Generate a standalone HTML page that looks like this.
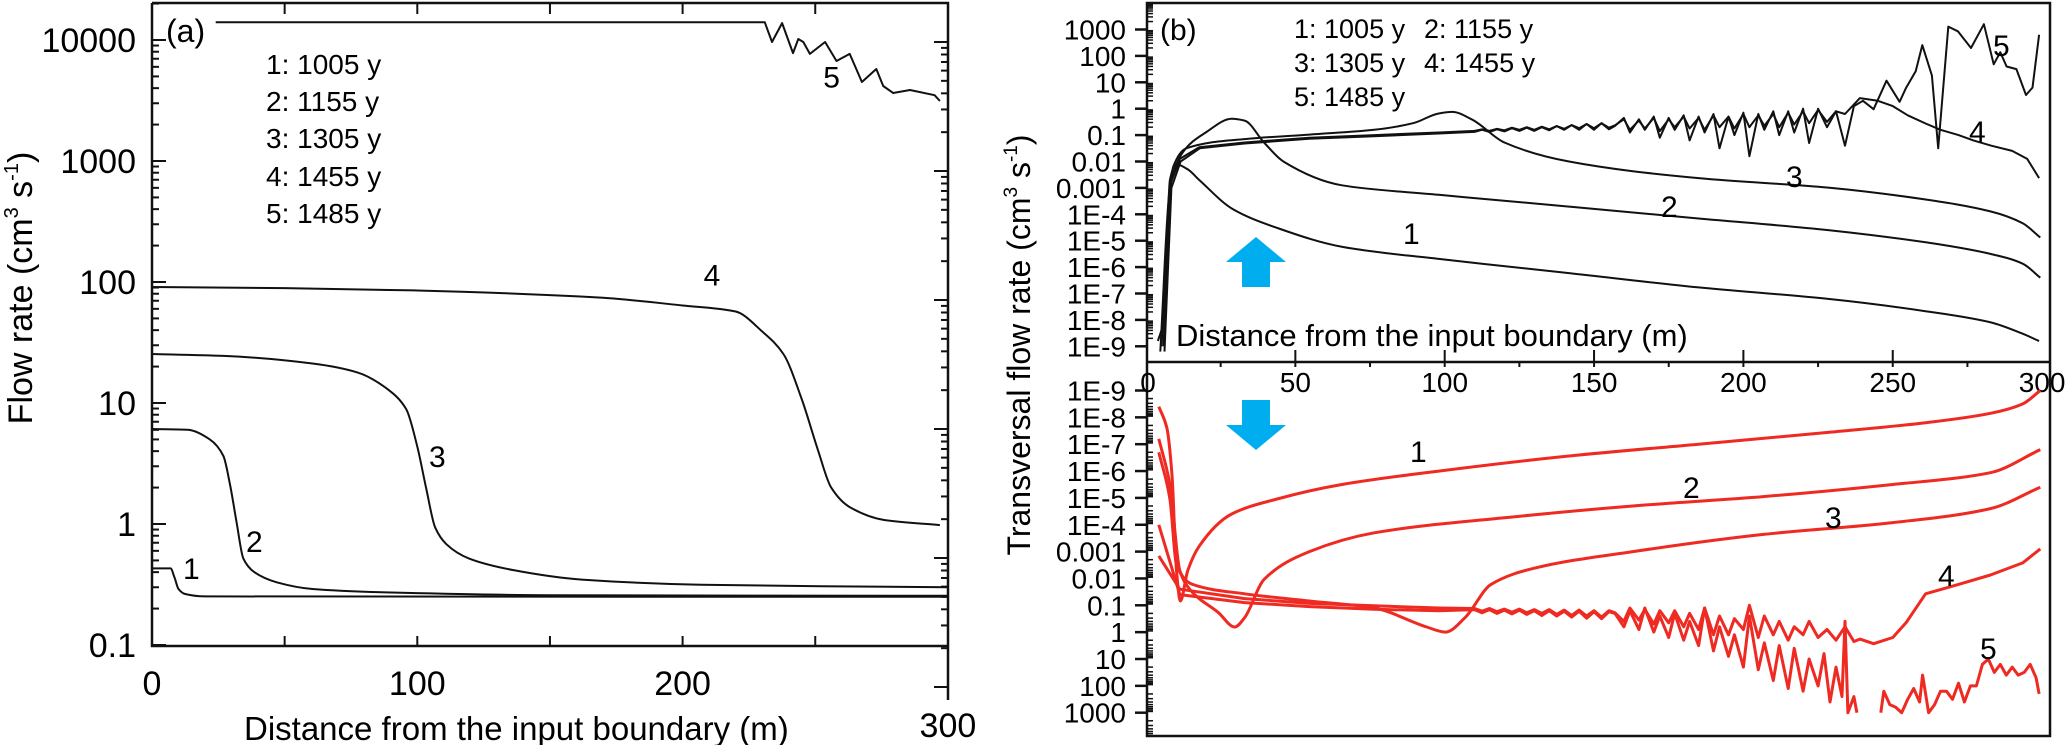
<!DOCTYPE html>
<html><head><meta charset="utf-8">
<style>
html,body{margin:0;padding:0;background:#fff;}
svg{display:block;font-family:"Liberation Sans",Arial,sans-serif;}
</style></head>
<body>
<svg id="fig" width="2067" height="745" viewBox="0 0 2067 745" xmlns="http://www.w3.org/2000/svg">
<g id="axes"></g>
<g id="series"></g>
<g id="labels">
  <text x="166" y="42" font-size="32">(a)</text>
  <text x="1160" y="40" font-size="30">(b)</text>
  <g font-size="28">
    <text x="266" y="74">1: 1005 y</text>
    <text x="266" y="111">2: 1155 y</text>
    <text x="266" y="148">3: 1305 y</text>
    <text x="266" y="186">4: 1455 y</text>
    <text x="266" y="223">5: 1485 y</text>
  </g>
  <g font-size="27">
    <text x="1294" y="38">1: 1005 y</text>
    <text x="1424" y="38">2: 1155 y</text>
    <text x="1294" y="72">3: 1305 y</text>
    <text x="1424" y="72">4: 1455 y</text>
    <text x="1294" y="106">5: 1485 y</text>
  </g>
  <text x="244" y="740" font-size="33">Distance from the input boundary (m)</text>
  <text transform="translate(32,288) rotate(-90)" text-anchor="middle" font-size="34">Flow rate (cm<tspan font-size="20" dy="-14">3</tspan><tspan dy="14"> s</tspan><tspan font-size="20" dy="-14">-1</tspan><tspan dy="14">)</tspan></text>
  <text x="1176" y="346" font-size="31">Distance from the input boundary (m)</text>
  <text transform="translate(1030,345) rotate(-90)" text-anchor="middle" font-size="32">Transversal flow rate (cm<tspan font-size="19" dy="-13">3</tspan><tspan dy="13"> s</tspan><tspan font-size="19" dy="-13">-1</tspan><tspan dy="13">)</tspan></text>
  <g font-size="30">
    <text x="183" y="579">1</text>
    <text x="246" y="552">2</text>
    <text x="429" y="467">3</text>
  </g>
  <g font-size="30">
    <text x="1993" y="56">5</text>
    <text x="1969" y="142">4</text>
    <text x="1786" y="187">3</text>
    <text x="1661" y="217">2</text>
    <text x="1403" y="244">1</text>
    <text x="1410" y="462">1</text>
    <text x="1683" y="498">2</text>
    <text x="1825" y="528">3</text>
    <text x="1938" y="586">4</text>
    <text x="1980" y="659">5</text>
  </g>
  <polygon fill="#00AEEF" points="1256,237 1286,262 1270,262 1270,287 1242,287 1242,262 1226,262"/>
  <polygon fill="#00AEEF" points="1256,450 1286,425 1270,425 1270,400 1242,400 1242,425 1226,425"/>
</g>
</svg>
<script>
// ---------- Panel (a) data: flow rate (cm3/s) vs distance (m) ----------
const a1X = [0, 7, 8.5, 10, 12.5, 20, 300];
const a1V = [0.43, 0.43, 0.36, 0.29, 0.264, 0.252, 0.25];
const a2X = [0, 13.4, 21.8, 26.9, 29.4, 31.9, 34.4, 38.6, 47, 60.5, 94, 150, 300];
const a2V = [6.1, 6.0, 5.0, 3.65, 2.12, 1.03, 0.52, 0.40, 0.33, 0.29, 0.27, 0.258, 0.255];
const a3X = [0, 27, 60.5, 77.4, 89, 95.8, 100, 103.4, 106.7, 111, 119.4, 136, 162, 207, 300];
const a3V = [25.4, 24.5, 21.2, 17.9, 12.9, 8.9, 4.36, 1.95, 0.94, 0.68, 0.52, 0.417, 0.347, 0.315, 0.30];
const a4X = [0, 50, 100, 150, 170, 200, 220, 230, 238, 245, 251, 256, 263, 276, 297];
const a4V = [91, 89, 85, 78, 74, 64, 57, 39, 25.4, 10.6, 4.1, 2.0, 1.38, 1.08, 0.98];
const a5X = [24, 100, 200, 231, 233.7, 237.5, 241.6, 243.6, 245.5, 248, 253.7, 258, 263, 267.6, 273, 275.6, 279.4, 285.7, 295, 297];
const a5V = [14000, 14000, 14000, 14000, 9630, 13800, 7800, 10200, 9630, 7670, 9630, 6700, 7670, 4500, 5760, 4170, 3650, 3860, 3500, 3130];
const aYTicks = [0.1, 1, 10, 100, 1000, 10000];
const aYTickLabels = ["0.1", "1", "10", "100", "1000", "10000"];
const aXTicks = [0, 100, 200];
const aXTickLabels = ["0", "100", "200"];

// ---------- Panel (b) data: log10 of transversal flow rate ----------
const bu1X = [4, 6, 8, 10, 14, 18, 29, 44, 66, 98, 142, 185, 228, 261, 283, 293, 299];
const bu1L = [-8.8, -8.0, -2.7, -2.1, -2.3, -2.72, -3.8, -4.52, -5.24, -5.69, -6.23, -6.77, -7.2, -7.67, -8.1, -8.5, -8.8];
const bu2X = [4.8, 8, 12.4, 20, 28.7, 33, 39.5, 46, 65.6, 98, 141.6, 185, 228.4, 261, 282.7, 293.5, 299.4];
const bu2L = [-9.2, -3.0, -1.64, -0.9, -0.38, -0.45, -1.28, -2.0, -2.9, -3.26, -3.71, -4.16, -4.6, -5.06, -5.5, -5.87, -6.4];
const bu3X = [5.2, 9.1, 13.5, 33, 54.7, 76.4, 89.4, 98, 102.5, 109, 120, 141.6, 185, 228.4, 261, 282.7, 293.5, 299.4];
const bu3L = [-9.0, -2.2, -1.5, -1.15, -0.98, -0.8, -0.55, -0.18, -0.12, -0.4, -1.28, -2.0, -2.63, -2.99, -3.44, -3.89, -4.34, -4.88];
const bu4X = [5.9, 8, 11.3, 17.8, 33, 54.7, 76.4, 98, 110, 112.5, 115, 117.5, 120, 122.5, 125, 127.5, 130, 132.5, 135, 137.5, 140, 142.5, 145, 147.5, 150, 152.5, 155, 157, 160, 162, 165, 167, 170, 172, 175, 177, 180, 182, 185, 187, 190, 192, 195, 197, 200, 202, 205, 207, 210, 212, 215, 217, 220, 222, 225, 228, 231, 234, 239, 245, 250, 255, 261, 266, 272, 277, 283, 290, 295, 299];
const bu4L = [-9.0, -2.9, -1.9, -1.46, -1.28, -1.1, -1.0, -0.9, -0.84, -0.78, -0.84, -0.76, -0.82, -0.72, -0.8, -0.7, -0.8, -0.68, -0.78, -0.66, -0.76, -0.62, -0.74, -0.58, -0.74, -0.55, -0.72, -0.63, -0.4, -0.8, -0.45, -0.75, -0.35, -0.85, -0.4, -0.7, -0.3, -0.75, -0.35, -0.8, -0.25, -0.7, -0.3, -0.75, -0.2, -0.7, -0.25, -0.65, -0.2, -0.7, -0.15, -0.6, -0.1, -0.55, -0.05, -0.5, -0.1, -0.2, 0.4, 0.3, 0.1, -0.25, -0.56, -0.8, -1.0, -1.2, -1.4, -1.6, -1.9, -2.63];
const bu5X = [6.2, 8.5, 11.6, 18, 33, 54.7, 76.4, 98, 110, 112.5, 115, 117.5, 120, 122.5, 125, 127.5, 130, 132.5, 135, 137.5, 140, 142.5, 145, 147.5, 150, 152.5, 155, 157, 160, 162, 165, 167, 170, 172, 175, 177, 180, 182, 185, 187, 190, 192, 195, 197, 200, 202, 205, 207, 210, 212, 215, 217, 220, 222, 225, 228, 231, 234, 237, 240, 243.6, 247.9, 252.3, 254.5, 257.7, 259.9, 263.1, 265.2, 268.6, 271.8, 276.2, 280.5, 283.8, 286, 288.1, 291.4, 294.6, 296.8, 299];
const bu5L = [-9.2, -3.0, -2.0, -1.5, -1.32, -1.14, -1.04, -0.94, -0.88, -0.8, -0.88, -0.78, -0.86, -0.74, -0.84, -0.72, -0.84, -0.7, -0.82, -0.66, -0.8, -0.62, -0.8, -0.58, -0.8, -0.55, -0.78, -0.65, -0.35, -0.9, -0.4, -0.8, -0.3, -1.1, -0.35, -0.8, -0.25, -1.2, -0.3, -0.9, -0.2, -1.5, -0.3, -1.0, -0.15, -1.8, -0.2, -0.8, -0.1, -1.0, -0.1, -0.9, 0.0, -1.3, 0.0, -0.7, -0.1, -1.4, 0.1, 0.3, -0.02, 1.06, 0.26, 0.8, 1.42, 2.41, 1.26, -1.5, 3.11, 2.93, 2.3, 3.2, 1.68, 2.14, 1.6, 1.5, 0.52, 0.8, 2.8];

const bl1X = [4.3, 7, 8.7, 10.2, 11.5, 14, 17.8, 28.7, 43.9, 65.6, 98, 141.6, 185, 228.4, 261, 282.7, 293.5, 299.4];
const bl1L = [-8.4, -7.6, -5.85, -2.3, -1.16, -2.3, -3.2, -4.4, -4.96, -5.5, -6.0, -6.56, -7.0, -7.44, -7.8, -8.15, -8.5, -9.0];
const bl2X = [4.3, 8, 11.3, 14.6, 24.3, 29.7, 33, 39.5, 54.7, 76.4, 120, 163, 206.7, 250, 282.7, 299.4];
const bl2L = [-7.2, -5.5, -2.3, -1.6, -0.72, -0.19, -0.54, -1.96, -3.0, -3.7, -4.26, -4.7, -5.05, -5.5, -5.94, -6.8];
const bl3X = [4.3, 8, 10.2, 15.6, 33, 54.7, 76.4, 94, 100.3, 106.8, 115.5, 130.7, 163, 206.7, 250, 282.7, 299.4];
const bl3L = [-6.7, -4.96, -2.5, -1.78, -1.43, -1.16, -0.9, -0.19, 0.0, -0.54, -1.78, -2.4, -3.0, -3.64, -4.08, -4.6, -5.4];
const bl4X = [4.3, 11.3, 33, 54.7, 76.4, 98, 110, 112.5, 115, 117.5, 120, 122.5, 125, 127.5, 130, 132.5, 135, 137.5, 140, 142.5, 145, 147.5, 150, 152.5, 155, 157, 160, 162, 165, 167, 170, 172, 175, 177, 180, 182, 185, 187, 190, 192, 195, 197, 200, 202, 205, 207, 210, 212, 215, 217, 220, 222, 225, 228, 231, 234, 237, 239, 243.6, 250, 254.5, 261, 272, 282.7, 293.5, 299.4];
const bl4L = [-2.84, -1.6, -1.25, -1.07, -0.98, -0.9, -0.88, -0.78, -0.88, -0.76, -0.86, -0.74, -0.86, -0.72, -0.84, -0.7, -0.84, -0.66, -0.82, -0.62, -0.82, -0.6, -0.8, -0.56, -0.8, -0.72, -0.4, -0.9, -0.45, -0.85, -0.3, -0.8, -0.35, -0.8, -0.2, -0.7, -0.1, -0.9, 0.1, -0.6, 0.1, -0.5, -0.1, -1.0, 0.2, -0.6, 0.1, -0.4, 0.3, -0.2, 0.1, -0.4, 0.2, -0.1, 0.3, -0.2, 0.35, 0.26, 0.43, 0.2, -0.36, -1.43, -1.78, -2.13, -2.58, -3.1];
const bl5X = [4.3, 11.3, 33, 54.7, 76.4, 98, 110, 112.5, 115, 117.5, 120, 122.5, 125, 127.5, 130, 132.5, 135, 137.5, 140, 142.5, 145, 147.5, 150, 152.5, 155, 157, 160, 162, 165, 167, 170, 172, 175, 177, 180, 182, 185, 187, 190, 192, 195, 197, 200, 202, 205, 207, 210, 212, 215, 217, 220, 222, 225, 227, 229, 231, 233, 234, 235, 237, 238, 242, 246, 247, 249, 251, 253, 255, 257, 259, 260, 262, 264, 266, 268, 270, 272, 274, 276, 278, 280, 282, 284, 286, 288, 290, 292, 294, 296, 298, 299];
const bl5L = [-4.0, -1.4, -1.1, -0.95, -0.85, -0.8, -0.84, -0.72, -0.84, -0.7, -0.82, -0.68, -0.82, -0.66, -0.8, -0.62, -0.8, -0.6, -0.78, -0.56, -0.78, -0.52, -0.76, -0.5, -0.76, -0.7, -0.2, -0.8, -0.1, -0.9, 0.0, -0.6, 0.2, -0.7, 0.3, -0.4, 0.5, -0.9, 0.7, -0.2, 0.9, 0.1, 1.3, -0.6, 1.4, 0.4, 1.8, 0.5, 2.1, 0.6, 2.2, 1.0, 2.0, 0.8, 2.6, 1.3, 2.4, -0.4, 3.0, 2.4, 3.0, null, 3.0, 2.2, 2.7, 2.8, 3.0, 2.5, 2.1, 2.6, 1.6, 3.0, 2.7, 2.2, 2.2, 2.5, 1.9, 2.6, 2.0, 2.0, 1.2, 1.0, 1.5, 1.2, 1.6, 1.3, 1.6, 1.5, 1.2, 1.7, 2.3];

const bXTicks = [50, 100, 150, 200, 250, 300];
const bXTickLabels = ["50", "100", "150", "200", "250", "300"];
const bUpTickExp = [3, 2, 1, 0, -1, -2, -3, -4, -5, -6, -7, -8, -9];
const bUpTickLabels = ["1000", "100", "10", "1", "0.1", "0.01", "0.001", "1E-4", "1E-5", "1E-6", "1E-7", "1E-8", "1E-9"];
const bLoTickExp = [-9, -8, -7, -6, -5, -4, -3, -2, -1, 0, 1, 2, 3];
const bLoTickLabels = ["1E-9", "1E-8", "1E-7", "1E-6", "1E-5", "1E-4", "0.001", "0.01", "0.1", "1", "10", "100", "1000"];

// ---------- scales ----------
function xA(m){ return 152 + m * 2.653; }
function yA(v){ return 40 + (4 - Math.log10(v)) * 121; }
function xB(m){ return 1146 + m * 2.987; }
function yBU(l){ return 29.5 + (3 - l) * 26.4; }
function yBL(l){ return 390.5 + (l + 9) * 26.85; }

const NS = "http://www.w3.org/2000/svg";
const axesG = document.getElementById("axes");
const serG = document.getElementById("series");
const labG = document.getElementById("labels");
function mk(tag, attrs, parent){
  const e = document.createElementNS(NS, tag);
  for (const k in attrs) e.setAttribute(k, attrs[k]);
  parent.appendChild(e);
  return e;
}
function line(x1,y1,x2,y2,w,parent){
  return mk("line",{x1:x1,y1:y1,x2:x2,y2:y2,stroke:"#111","stroke-width":w},parent);
}

// ---------- Panel (a) axes ----------
const frameA = mk("path",{d:"M152,3 H948 V700 M152,3 V646 H948",fill:"none",stroke:"#111","stroke-width":2.5},axesG);


for (let e = -1; e <= 4; e++){
  for (let k = 1; k <= 9; k++){
    const y = yA(k * Math.pow(10, e));
    if (y < 3 || y > 646) continue;
    const t = line(152, y, 152 + (k === 1 ? 14 : 7), y, 2, axesG);
    
    
  }
}
aYTicks.forEach((v, i) => {
  const t = mk("text",{x:136,y:yA(v)+12,"text-anchor":"end","font-size":34},axesG);
  t.textContent = aYTickLabels[i];
  
  
});
for (let d = 0; d < 6; d++){
  for (let k = 1; k <= 9; k++){
    const y = 42 + d * 129 - Math.log10(k) * 129;
    if (y < 5 || y > 700) continue;
    const t = line(948, y, 948 - (k === 1 ? 14 : 7), y, 2, axesG);
    
    
  }
}
for (let m = 50; m < 300; m += 50){
  const tt = line(xA(m), 3, xA(m), 14, 2, axesG);
  
  
  const tb = line(xA(m), 646, xA(m), 636, 2, axesG);
  
  
}
aXTicks.forEach((m, i) => {
  const t = mk("text",{x:xA(m),y:695,"text-anchor":"middle","font-size":34},axesG);
  t.textContent = aXTickLabels[i];
  
  
});
const t300 = mk("text",{x:xA(300),y:737,"text-anchor":"middle","font-size":34},axesG);
t300.textContent = "300";



// ---------- Panel (b) axes ----------
const frameB = mk("path",{d:"M1147,3 H2050 V736 H1147 Z M1147,362 H2050",fill:"none",stroke:"#111","stroke-width":2.5},axesG);


bUpTickExp.forEach((e, i) => {
  const y = yBU(e);
  const t = line(1135, y, 1147, y, 2.5, axesG);
  
  
  for (let k = 2; k <= 9; k++){
    const yy = yBU(e + Math.log10(k));
    if (yy < 4) continue;
    const m = line(1147, yy, 1153, yy, 1.5, axesG);
    
    
  }
  const lb = mk("text",{x:1126,y:y+10,"text-anchor":"end","font-size":28},axesG);
  lb.textContent = bUpTickLabels[i];
  
  
});
bLoTickExp.forEach((e, i) => {
  const y = yBL(e);
  const t = line(1135, y, 1147, y, 2.5, axesG);
  
  
  for (let k = 2; k <= 9; k++){
    const yy = yBL(e + Math.log10(k));
    if (yy > 735) continue;
    const m = line(1147, yy, 1153, yy, 1.5, axesG);
    
    
  }
  const lb = mk("text",{x:1126,y:y+10,"text-anchor":"end","font-size":28},axesG);
  lb.textContent = bLoTickLabels[i];
  
  
});
for (let m = 25; m < 300; m += 25){
  const major = (m % 50 === 0);
  const t = line(xB(m), major ? 350 : 362, xB(m), 367, 2, axesG);
  
  
}
const zero = mk("text",{x:xB(0)+2,y:392,"text-anchor":"middle","font-size":28},axesG);
zero.textContent = "0";


bXTicks.forEach((m, i) => {
  const t = mk("text",{x:xB(m),y:392,"text-anchor":"middle","font-size":28},axesG);
  t.textContent = bXTickLabels[i];
  
  
});

// ---------- series (monotone cubic smoothing, no overshoot) ----------
function monoD(p){
  const n = p.length;
  let d = "M" + p[0][0].toFixed(1) + "," + p[0][1].toFixed(1);
  if (n < 3){
    for (let i = 1; i < n; i++) d += "L" + p[i][0].toFixed(1) + "," + p[i][1].toFixed(1);
    return d;
  }
  const dx = [], s = [];
  for (let i = 0; i < n - 1; i++){
    dx.push(p[i+1][0] - p[i][0]);
    s.push(dx[i] === 0 ? 0 : (p[i+1][1] - p[i][1]) / dx[i]);
  }
  const m = [s[0]];
  for (let i = 1; i < n - 1; i++){
    if (s[i-1] * s[i] <= 0) m.push(0);
    else {
      const w1 = 2 * dx[i] + dx[i-1], w2 = dx[i] + 2 * dx[i-1];
      m.push((w1 + w2) / (w1 / s[i-1] + w2 / s[i]));
    }
  }
  m.push(s[n-2]);
  for (let i = 0; i < n - 1; i++){
    const h = dx[i] / 3;
    const c1x = p[i][0] + h, c1y = p[i][1] + m[i] * h;
    const c2x = p[i+1][0] - h, c2y = p[i+1][1] - m[i+1] * h;
    d += "C" + c1x.toFixed(1) + "," + c1y.toFixed(1) + " " + c2x.toFixed(1) + "," + c2y.toFixed(1) + " " + p[i+1][0].toFixed(1) + "," + p[i+1][1].toFixed(1);
  }
  return d;
}
function path(xs, ys, fx, fy, color, w, name, smooth){
  const segs = [];
  let cur = [];
  for (let i = 0; i < xs.length; i++){
    if (ys[i] === null){ if (cur.length) segs.push(cur); cur = []; continue; }
    cur.push([fx(xs[i]), fy(ys[i])]);
  }
  if (cur.length) segs.push(cur);
  let d = "";
  segs.forEach(p => {
    if (smooth) d += monoD(p);
    else p.forEach((q, i) => { d += (i ? "L" : "M") + q[0].toFixed(1) + "," + q[1].toFixed(1); });
  });
  const el = mk("path",{d:d,fill:"none",stroke:color,"stroke-width":w,"stroke-linejoin":"round"},serG);
  
  
}
path(a1X, a1V, xA, yA, "#111", 2, "series-a-1", true);
path(a2X, a2V, xA, yA, "#111", 2, "series-a-2", true);
path(a3X, a3V, xA, yA, "#111", 2, "series-a-3", true);
path(a4X, a4V, xA, yA, "#111", 2, "series-a-4", true);
path(a5X, a5V, xA, yA, "#111", 2, "series-a-5", false);
path(bu1X, bu1L, xB, yBU, "#111", 2, "series-b-upper-1", true);
path(bu2X, bu2L, xB, yBU, "#111", 2, "series-b-upper-2", true);
path(bu3X, bu3L, xB, yBU, "#111", 2, "series-b-upper-3", true);
path(bu4X, bu4L, xB, yBU, "#111", 2, "series-b-upper-4", false);
path(bu5X, bu5L, xB, yBU, "#111", 2, "series-b-upper-5", false);
path(bl1X, bl1L, xB, yBL, "#ee2a22", 3, "series-b-lower-1", true);
path(bl2X, bl2L, xB, yBL, "#ee2a22", 3, "series-b-lower-2", true);
path(bl3X, bl3L, xB, yBL, "#ee2a22", 3, "series-b-lower-3", true);
path(bl4X, bl4L, xB, yBL, "#ee2a22", 3, "series-b-lower-4", false);
path(bl5X, bl5L, xB, yBL, "#ee2a22", 3, "series-b-lower-5", false);

const l4 = mk("text",{x:xA(200)+21,y:yA(a4V[5])-20,"font-size":30},labG);
l4.textContent = "4";


const l5 = mk("text",{x:xA(253),y:yA(a5V[0])+65,"font-size":30},labG);
l5.textContent = "5";


</script>
</body></html>
